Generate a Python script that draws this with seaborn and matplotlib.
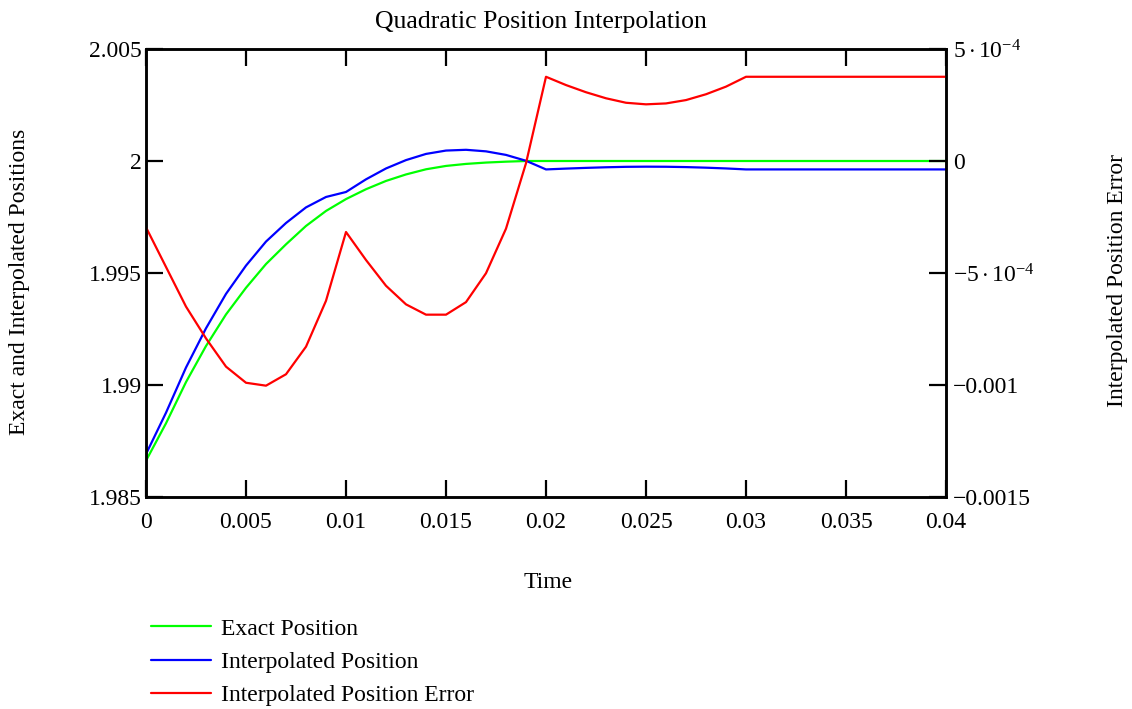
import numpy as np
import pandas as pd
import matplotlib
matplotlib.use("Agg")
import matplotlib.pyplot as plt
import seaborn as sns
from matplotlib.ticker import FixedLocator, FixedFormatter

# ---- data ----
time = [i * 0.001 for i in range(41)]

exact_position = [1.98662, 1.98829, 1.99013, 1.99174, 1.99315, 1.99434, 1.99540,
                  1.99628, 1.99710, 1.99777, 1.99830, 1.99874, 1.99911, 1.99940,
                  1.99963, 1.99978, 1.99987, 1.99993, 1.99997] + [2.0] * 22

interp_position = [1.986916, 1.988763, 1.990780, 1.992532, 1.994068, 1.995330,
                   1.996403, 1.997232, 1.997929, 1.998394, 1.998617, 1.999182,
                   1.999667, 2.000040, 2.000316, 2.000466, 2.000500, 2.000431,
                   2.000272, 2.000010, 1.999624, 1.999661, 1.999693, 1.999720,
                   1.999740, 1.999747, 1.999743, 1.999728, 1.999702, 1.999668] + [1.999624] * 11

interp_error = [-0.000296, -0.000473, -0.000650, -0.000792, -0.000918, -0.000990,
                -0.001003, -0.000952, -0.000829, -0.000624, -0.000317, -0.000442,
                -0.000557, -0.000640, -0.000686, -0.000686, -0.000630, -0.000501,
                -0.000302, -0.000010, 0.000376, 0.000339, 0.000307, 0.000280,
                0.000260, 0.000253, 0.000257, 0.000272, 0.000298, 0.000332] + [0.000376] * 11

left_ticks = [1.985, 1.99, 1.995, 2.0, 2.005]
left_labels = ["1.985", "1.99", "1.995", "2", "2.005"]
right_ticks = [-0.0015, -0.001, -0.0005, 0.0, 0.0005]
right_labels = ["\u22120.0015", "\u22120.001", r"$-5\cdot10^{-4}$", "0", r"$5\cdot10^{-4}$"]
x_ticks = [0, 0.005, 0.01, 0.015, 0.02, 0.025, 0.03, 0.035, 0.04]
x_labels = ["0", "0.005", "0.01", "0.015", "0.02", "0.025", "0.03", "0.035", "0.04"]

df = pd.DataFrame({"t": time, "exact": exact_position,
                   "interp": interp_position, "err": interp_error})

sns.set_style("white")
plt.rcParams["font.family"] = ["Liberation Serif", "DejaVu Serif"]
plt.rcParams["mathtext.fontset"] = "custom"
plt.rcParams["mathtext.rm"] = "Liberation Serif"
plt.rcParams["mathtext.it"] = "Liberation Serif:italic"
plt.rcParams["mathtext.bf"] = "Liberation Serif:bold"
plt.rcParams["axes.unicode_minus"] = True
plt.rcParams["text.color"] = "black"
plt.rcParams["xtick.color"] = "black"
plt.rcParams["ytick.color"] = "black"
plt.rcParams["axes.labelcolor"] = "black"

FS = 17
fig = plt.figure(figsize=(11.32, 7.09), dpi=100)
ax = fig.add_axes([146 / 1132, 1 - 497 / 709, 800 / 1132, 448 / 709])
ax2 = ax.twinx()

sns.lineplot(data=df, x="t", y="exact", ax=ax, color="#00ff00", lw=1.6, label="Exact Position", legend=False)
sns.lineplot(data=df, x="t", y="interp", ax=ax, color="#0000ff", lw=1.6, label="Interpolated Position", legend=False)
sns.lineplot(data=df, x="t", y="err", ax=ax2, color="#ff0000", lw=1.6, label="Interpolated Position Error", legend=False)

ax.set_xlim(0, 0.04)
ax.set_ylim(1.985, 2.005)
ax2.set_ylim(-0.0015, 0.0005)

ax.xaxis.set_major_locator(FixedLocator(x_ticks))
ax.xaxis.set_major_formatter(FixedFormatter(x_labels))
ax.yaxis.set_major_locator(FixedLocator(left_ticks))
ax.yaxis.set_major_formatter(FixedFormatter(left_labels))
ax2.yaxis.set_major_locator(FixedLocator(right_ticks))
ax2.yaxis.set_major_formatter(FixedFormatter(right_labels))

ax.tick_params(axis="x", direction="in", length=12, width=1.6, top=True, bottom=True,
               labelsize=FS, pad=11, colors="black")
ax.tick_params(axis="y", direction="in", length=12, width=1.6, left=True, right=False,
               labelsize=FS, pad=3, colors="black")
ax2.tick_params(axis="y", direction="in", length=12, width=1.6, right=True,
                labelsize=FS, pad=5, colors="black")

ax.set_xlabel("")
ax.set_ylabel("")
ax2.set_ylabel("")
for a in (ax, ax2):
    for s in a.spines.values():
        s.set_color("black")
        s.set_linewidth(1.8)

fig.text(541 / 1132, 1 - 22 / 709, "Quadratic Position Interpolation", ha="center", va="center", fontsize=18.5)
fig.text(548 / 1132, 1 - 582 / 709, "Time", ha="center", va="center", fontsize=FS)
fig.text(20 / 1132, 1 - 282 / 709, "Exact and Interpolated Positions", ha="center", va="center",
         rotation=90, fontsize=FS)
fig.text(1118 / 1132, 1 - 280 / 709, "Interpolated Position Error", ha="center", va="center",
         rotation=90, fontsize=FS)

h1, l1 = ax.get_legend_handles_labels()
h2, l2 = ax2.get_legend_handles_labels()
fig.legend(h1 + h2, l1 + l2, loc="upper left", bbox_to_anchor=(151 / 1132, 1 - 618 / 709),
           frameon=False, fontsize=FS, handlelength=2.55, handletextpad=0.42,
           labelspacing=0.5, borderpad=0, borderaxespad=0)

fig.savefig("out.png", dpi=100)
